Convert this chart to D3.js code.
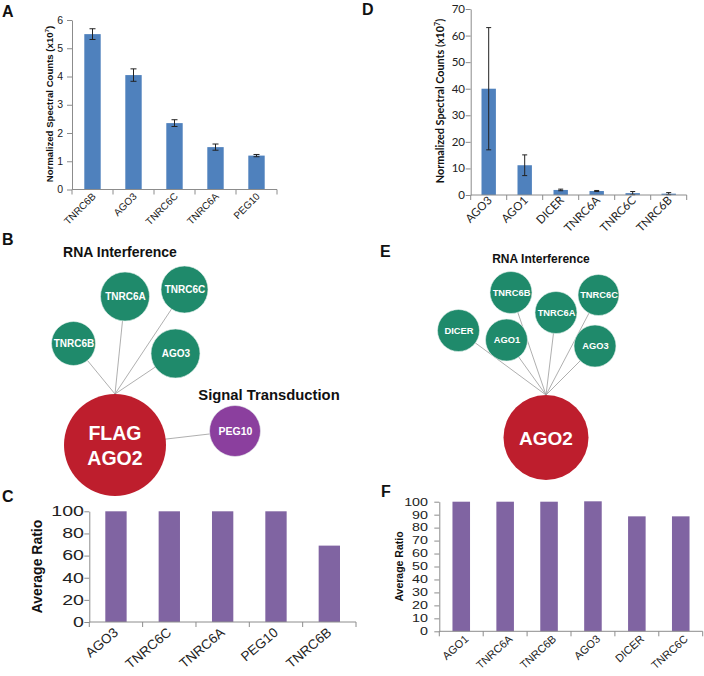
<!DOCTYPE html>
<html>
<head>
<meta charset="utf-8">
<script src="https://cdn.jsdelivr.net/npm/d3@7"></script>
<style>
  html, body { margin: 0; padding: 0; background: #fff; }
  svg { display: block; }
  text { font-family: "Liberation Sans", Arial, Helvetica, sans-serif; }
</style>
</head>
<body>
<svg id="fig" width="704" height="676"></svg>
<script>
// ---------------- DATA ----------------
// Panel A: FLAG-AGO2 interactors, normalized spectral counts (x10^7)
const catsA = ["TNRC6B", "AGO3", "TNRC6C", "TNRC6A", "PEG10"];
const valsA = [5.5, 4.05, 2.35, 1.5, 1.2];
const errA  = [0.19, 0.22, 0.12, 0.11, 0.04];
const ticksA = [0, 1, 2, 3, 4, 5, 6];

// Panel D: AGO2 interactors, normalized spectral counts (x10^7)
const catsD = ["AGO3", "AGO1", "DICER", "TNRC6A", "TNRC6C", "TNRC6B"];
const valsD = [40, 11.2, 1.9, 1.5, 0.7, 0.5];
const errD  = [23, 3.9, 0.3, 0.2, 0.6, 0.4];
const ticksD = [0, 10, 20, 30, 40, 50, 60, 70];

// Panel C: average ratio
const catsC = ["AGO3", "TNRC6C", "TNRC6A", "PEG10", "TNRC6B"];
const valsC = [100, 100, 100, 100, 69];
const ticksC = [0, 20, 40, 60, 80, 100];

// Panel F: average ratio
const catsF = ["AGO1", "TNRC6A", "TNRC6B", "AGO3", "DICER", "TNRC6C"];
const valsF = [100, 100, 100, 100.3, 88.7, 88.7];
const ticksF = [0, 10, 20, 30, 40, 50, 60, 70, 80, 90, 100];

// Panel B network
const hubB = "FLAG AGO2";
const nodesB = ["TNRC6B", "TNRC6A", "TNRC6C", "AGO3", "PEG10"];
const groupB = ["RNA Interference", "RNA Interference", "RNA Interference", "RNA Interference", "Signal Transduction"];

// Panel E network
const hubE = "AGO2";
const nodesE = ["DICER", "AGO1", "TNRC6B", "TNRC6A", "TNRC6C", "AGO3"];
const groupE = ["RNA Interference", "RNA Interference", "RNA Interference", "RNA Interference", "RNA Interference", "RNA Interference"];

// ---------------- LAYOUT (positions only) ----------------
const layoutB = {
  hub: {x: 115, y: 445, r: 51},
  TNRC6B: {x: 73.5, y: 343.5, r: 22},
  TNRC6A: {x: 125, y: 296.5, r: 24.5},
  TNRC6C: {x: 184.5, y: 289.5, r: 23.5},
  AGO3:   {x: 175.5, y: 353.5, r: 24.5},
  PEG10:  {x: 235, y: 431, r: 25.5}
};
const layoutE = {
  hub: {x: 546, y: 437.5, r: 42.5},
  DICER:  {x: 458.5, y: 330.5, r: 21},
  AGO1:   {x: 506.5, y: 340, r: 21},
  TNRC6B: {x: 511, y: 292.5, r: 21},
  TNRC6A: {x: 556, y: 312.5, r: 21},
  TNRC6C: {x: 598.5, y: 295, r: 20.5},
  AGO3:   {x: 595, y: 346, r: 21}
};

const svg = d3.select("#fig");
const AXIS = "#8c8c8c";

// ---------------- BAR PANEL HELPER ----------------
function barPanel(o) {
  const g = svg.append("g");
  const x = d3.scaleBand().domain(o.cats).range(o.xr).paddingInner(0).paddingOuter(0);
  const y = d3.scaleLinear().domain([0, o.ymax]).range(o.yr);
  const bw = x.bandwidth() * 0.4;

  g.selectAll("rect.bar").data(o.vals).enter().append("rect")
    .attr("x", (d, i) => x(o.cats[i]) + x.bandwidth() / 2 - bw / 2)
    .attr("y", d => y(d))
    .attr("width", bw)
    .attr("height", d => y(0) - y(d))
    .attr("fill", o.color);

  if (o.err) {
    const eg = g.append("g").attr("stroke", "#222").attr("stroke-width", 1);
    o.vals.forEach((v, i) => {
      const cx = x(o.cats[i]) + x.bandwidth() / 2;
      const lo = Math.max(0, v - o.err[i]), hi = v + o.err[i];
      eg.append("line").attr("x1", cx).attr("x2", cx).attr("y1", y(lo)).attr("y2", y(hi));
      eg.append("line").attr("x1", cx - o.cap).attr("x2", cx + o.cap).attr("y1", y(hi)).attr("y2", y(hi));
      eg.append("line").attr("x1", cx - o.cap).attr("x2", cx + o.cap).attr("y1", y(lo)).attr("y2", y(lo));
    });
  }

  const ya = g.append("g").attr("transform", `translate(${o.xr[0]},0)`)
    .call(d3.axisLeft(y).tickValues(o.ticks).tickSize(5).tickSizeOuter(0).tickFormat(""));
  ya.select(".domain").attr("stroke", AXIS);
  ya.selectAll(".tick line").attr("stroke", AXIS);
  o.ticks.forEach(t => {
    g.append("text")
      .attr("transform", `translate(${o.ylabX},${y(t)}) scale(${o.sx || 1},1)`)
      .attr("text-anchor", "end").attr("dy", "0.35em")
      .attr("font-size", o.yfs).attr("fill", "#222")
      .style("font-family", o.font)
      .text(t);
  });

  const xa = g.append("g").attr("transform", `translate(0,${o.yr[0]})`);
  xa.append("line").attr("x1", o.xr[0]).attr("x2", o.xr[1]).attr("stroke", AXIS);
  const bounds = o.cats.map(c => x(c)).concat([o.xr[1]]);
  xa.selectAll("line.tk").data(bounds).enter().append("line")
    .attr("x1", d => d).attr("x2", d => d).attr("y1", 0).attr("y2", 5).attr("stroke", AXIS);

  o.cats.forEach(c => {
    const cx = x(c) + x.bandwidth() / 2;
    g.append("text")
      .attr("transform", `translate(${cx + o.xlabDx},${o.xlabY}) rotate(${o.xrot || -45})`)
      .attr("text-anchor", "end")
      .attr("font-size", o.xfs).attr("fill", "#222")
      .style("font-family", o.font)
      .text(c);
  });

  const tt = g.append("text")
    .attr("transform", `translate(${o.titleX},${o.titleY}) rotate(-90)`)
    .attr("text-anchor", "middle")
    .attr("font-size", o.tfs).attr("font-weight", "bold").attr("fill", "#111")
    .style("font-family", o.font);
  if (o.sup) {
    tt.append("tspan").text(o.title);
    tt.append("tspan").attr("font-size", o.tfs * 0.65).attr("dy", -o.tfs * 0.4).text("7");
    tt.append("tspan").attr("dy", o.tfs * 0.4).text(")");
  } else {
    tt.text(o.title);
  }
}

barPanel({cats: catsA, vals: valsA, err: errA, cap: 3, ticks: ticksA, ymax: 6,
  xr: [72, 277], yr: [189.5, 20], color: "#4f81bd",
  ylabX: 63, yfs: 10.5, xfs: 10, xlabDx: 4, xlabY: 197,
  titleX: 52.5, titleY: 104, tfs: 9.6, title: "Normalized Spectral Counts (x10", sup: true,
  font: "Liberation Sans"});

barPanel({cats: catsD, vals: valsD, err: errD, cap: 2.5, ticks: ticksD, ymax: 70,
  xr: [470.7, 686.7], yr: [195, 9], color: "#4f81bd",
  ylabX: 465, yfs: 11.5, xfs: 11.5, xlabDx: 4, xlabY: 201,
  titleX: 444, titleY: 101, tfs: 10.8, title: "Normalized Spectral Counts (x10", sup: true,
  font: "Lato"});

barPanel({cats: catsC, vals: valsC, ticks: ticksC, ymax: 100,
  xr: [89.3, 356], yr: [622, 511.3], color: "#8064a2", sx: 1.4,
  ylabX: 84, yfs: 14, xfs: 13.5, xlabDx: 3, xlabY: 634, xrot: -40,
  titleX: 42, titleY: 566.5, tfs: 14, title: "Average Ratio",
  font: "Liberation Sans"});

barPanel({cats: catsF, vals: valsF, ticks: ticksF, ymax: 100,
  xr: [439.3, 702.7], yr: [631.3, 501.7], color: "#8064a2", sx: 1.3,
  ylabX: 428, yfs: 11, xfs: 11, xlabDx: 8, xlabY: 640, xrot: -42,
  titleX: 403, titleY: 566.5, tfs: 10.5, title: "Average Ratio",
  font: "Liberation Sans"});

// ---------------- NETWORK HELPER ----------------
function network(o) {
  const g = svg.append("g");
  const hub = o.layout.hub;
  const eg = g.append("g").attr("stroke", "#9a9a9a").attr("stroke-width", 0.8);
  o.nodes.forEach((n, i) => {
    const p = o.layout[n];
    const fromTop = o.groups[i] === "RNA Interference";
    eg.append("line")
      .attr("x1", hub.x).attr("y1", fromTop ? hub.y - hub.r : hub.y)
      .attr("x2", p.x).attr("y2", p.y);
  });
  g.append("circle").attr("cx", hub.x).attr("cy", hub.y).attr("r", hub.r).attr("fill", "#be1e2d");
  const words = o.hubLabel.split(" ");
  words.forEach((w, i) => {
    g.append("text").attr("x", hub.x).attr("y", hub.y + o.hubDy + (i - (words.length - 1) / 2) * o.hubLine)
      .attr("text-anchor", "middle").attr("font-size", o.hubFs).attr("font-weight", "bold")
      .attr("fill", "#fff").text(w);
  });
  o.nodes.forEach((n, i) => {
    const p = o.layout[n];
    g.append("circle").attr("cx", p.x).attr("cy", p.y).attr("r", p.r)
      .attr("fill", o.groups[i] === "RNA Interference" ? "#1f8a6b" : "#8b3f9e")
      .attr("stroke", "#e8f2ee").attr("stroke-width", 0.6);
    g.append("text").attr("x", p.x + 0.5).attr("y", p.y).attr("dy", "0.36em")
      .attr("text-anchor", "middle").attr("font-size", n === "PEG10" ? o.nodeFs + 0.5 : o.nodeFs)
      .attr("font-weight", "bold").attr("fill", "#fff").text(n);
  });
  o.groupLabels.forEach(gl => {
    g.append("text").attr("x", gl.x).attr("y", gl.y).attr("text-anchor", "middle")
      .attr("font-size", gl.fs).attr("font-weight", "bold").attr("fill", "#111").text(gl.text);
  });
}

network({nodes: nodesB, groups: groupB, layout: layoutB, hubLabel: hubB,
  hubFs: 19.5, hubLine: 25, hubDy: 7, nodeFs: 10,
  groupLabels: [{text: "RNA Interference", x: 120, y: 257, fs: 14},
                {text: "Signal Transduction", x: 269, y: 400, fs: 14.8}]});

network({nodes: nodesE, groups: groupE, layout: layoutE, hubLabel: hubE,
  hubFs: 19, hubLine: 25, hubDy: 7, nodeFs: 9.3,
  groupLabels: [{text: "RNA Interference", x: 541, y: 262.5, fs: 12}]});

// ---------------- PANEL LETTERS ----------------
const letters = [
  {t: "A", x: 2, y: 17}, {t: "B", x: 2, y: 245}, {t: "C", x: 2, y: 502},
  {t: "D", x: 362, y: 15}, {t: "E", x: 380, y: 257}, {t: "F", x: 381, y: 497}
];
svg.selectAll("text.letter").data(letters).enter().append("text")
  .attr("class", "letter").attr("x", d => d.x).attr("y", d => d.y)
  .attr("font-size", 16).attr("font-weight", "bold").attr("fill", "#111").text(d => d.t);
</script>
</body>
</html>
